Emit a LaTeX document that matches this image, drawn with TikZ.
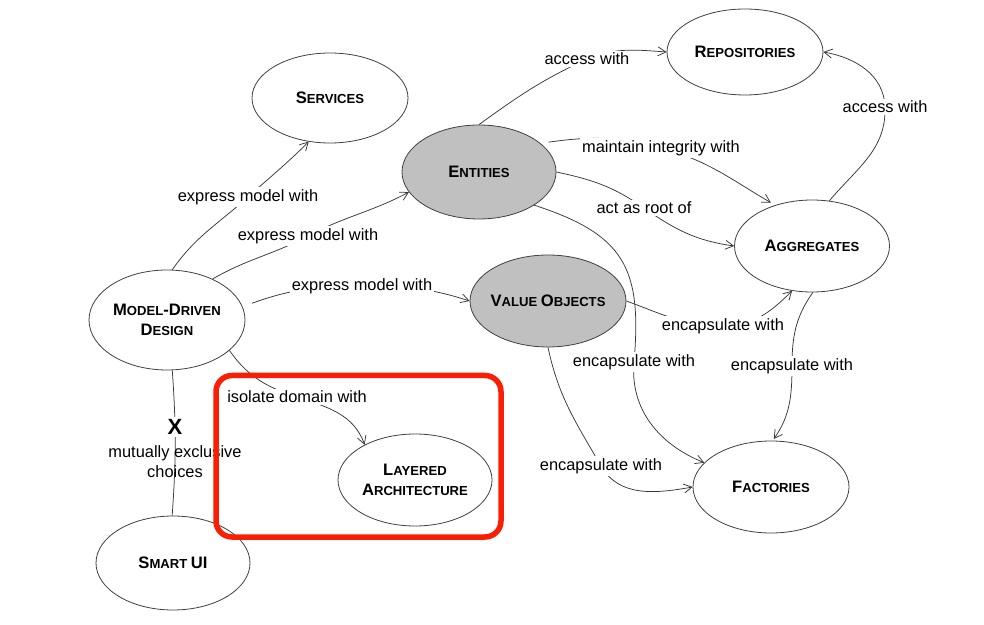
\documentclass[tikz,border=0pt]{standalone}
\usepackage{fontspec}
\setmainfont{Liberation Sans}
\usetikzlibrary{shapes.geometric,arrows.meta}
\definecolor{edgec}{RGB}{55,55,55}
\definecolor{nodegray}{RGB}{192,192,192}
\definecolor{redbox}{RGB}{250,30,5}
\newcommand{\SCap}[2]{{\fontsize{16.6}{20}\selectfont #1}{\fontsize{13.1}{20}\selectfont #2}}
\begin{document}
\begin{tikzpicture}[x=1pt,y=1pt]
\tikzset{
  concept/.style={ellipse, draw=black!75, line width=0.8pt, fill=white, inner sep=0pt},
  shaded/.style={concept, fill=nodegray},
  nm/.style={font=\bfseries\fontsize{13.1}{20.5}\selectfont, align=center, text=black, inner sep=0pt},
  lbl/.style={fill=white, inner sep=2pt, font=\fontsize{16.4}{19.5}\selectfont, text=black},
  conn/.style={draw=edgec, line width=0.75pt},
  arr/.style={conn, -{Straight Barb[length=8pt,width=9pt]}},
}
\useasboundingbox (0,0) rectangle (984,624);

% concept nodes
\node[concept, minimum width=156pt, minimum height=86pt, label={[nm]center:\SCap{R}{EPOSITORIES}}] (rep) at (745,572) {};
\node[concept, minimum width=156pt, minimum height=90pt, label={[nm]center:\SCap{S}{ERVICES}}] (serv) at (330,526) {};
\node[shaded, minimum width=154pt, minimum height=94pt, label={[nm]center:\SCap{E}{NTITIES}}] (ent) at (479,452) {};
\node[concept, minimum width=155pt, minimum height=92pt, label={[nm]center:\SCap{A}{GGREGATES}}] (agg) at (812,378) {};
\node[concept, minimum width=156pt, minimum height=100pt, label={[nm]center:\SCap{M}{ODEL}\SCap{-D}{RIVEN}\\\SCap{D}{ESIGN}}] (mdd) at (167,304) {};
\node[shaded, minimum width=156pt, minimum height=92pt, label={[nm]center:\SCap{V}{ALUE} \SCap{O}{BJECTS}}] (vo) at (548,323) {};
\node[concept, minimum width=154pt, minimum height=92pt, label={[nm]center:\SCap{L}{AYERED}\\\SCap{A}{RCHITECTURE}}] (la) at (415,144) {};
\node[concept, minimum width=156pt, minimum height=92pt, label={[nm]center:\SCap{F}{ACTORIES}}] (fac) at (771,137) {};
\node[concept, minimum width=154pt, minimum height=94pt, label={[nm]center:\SCap{S}{MART} \SCap{UI}{}}] (sui) at (173,61) {};

% label positions
\coordinate (c1) at (248,427);
\coordinate (c2) at (308,388);
\coordinate (c3) at (362,338);
\coordinate (c4) at (297,227);
\coordinate (c6) at (587,565);
\coordinate (c7) at (661,476);
\coordinate (c8) at (644,416);
\coordinate (c9) at (885,517);
\coordinate (c10) at (634,262);
\coordinate (c11) at (723,298);
\coordinate (c12) at (792,258);
\coordinate (c13) at (601,158);

% connectors
\draw[arr] (mdd.84) to[out=55,in=222] (c1) to[out=42,in=225] (serv.244);
\draw[arr] (mdd.42) to[out=30,in=208] (c2) to[out=28,in=208] (ent.196);
\draw[arr, shorten <=10pt] (mdd.10) to[out=20,in=180] (c3) to[out=0,in=162] (vo.180);
\draw[arr] (mdd.334) to[out=-55,in=162] (c4) to[out=-18,in=110] (la.145);
\draw[conn] (mdd.276) to[bend left=4] (sui.91);
\draw[arr] (ent.90) to[out=36,in=205] (c6) to[out=22,in=176] (rep.180);
\draw[arr, shorten <=8pt, shorten >=5pt] (ent.25) to[out=8,in=165] (c7) to[out=-15,in=150] (agg.132);
\draw[arr] (ent.0) to[out=-12,in=145] (c8) to[out=-35,in=172] (agg.180);
\draw[arr] (agg.69) to[out=50,in=-88] (c9) to[out=92,in=-10] (rep.0);
\draw[arr] (ent.329) to[out=-18,in=85,looseness=1.3] (c10) to[out=-95,in=158] (fac.160);
\draw[arr] (vo.0) to[out=-20,in=180] (c11) to[out=0,in=225] (agg.246);
\draw[arr, shorten >=2pt] (agg.271) to[out=235,in=90] (c12) to[out=-90,in=55] (fac.88);
\draw[arr] (vo.270) to[out=-78,in=120] (c13) to[out=-60,in=190] (fac.180);

% connector labels
\node[lbl] (l1) at (c1) {express model with};
\node[lbl] (l2) at (c2) {express model with};
\node[lbl] (l3) at (c3) {express model with};
\node[lbl] (l4) at (c4) {isolate domain with};
\node[lbl] (l6) at (c6) {access with};
\node[lbl] (l7) at (c7) {maintain integrity with};
\node[lbl] (l8) at (c8) {act as root of};
\node[lbl] (l9) at (c9) {access with};
\node[lbl] (l10) at (c10) {encapsulate with};
\node[lbl] (l11) at (c11) {encapsulate with};
\node[lbl] (l12) at (c12) {encapsulate with};
\node[lbl] (l13) at (c13) {encapsulate with};
\node[font=\bfseries\fontsize{22}{24}\selectfont, fill=white, inner sep=2pt, text=black] (xm) at (175,197) {X};
\node[font=\fontsize{16.4}{20}\selectfont, align=center, inner sep=0pt, text=black] (mec) at (175,162) {mutually exclusive\\choices};

% highlight box
\node[draw=redbox, line width=5.5pt, rounded corners=16pt, minimum width=285pt, minimum height=161.5pt, inner sep=0pt] (focus) at (358.5,167.75) {};
\end{tikzpicture}
\end{document}
